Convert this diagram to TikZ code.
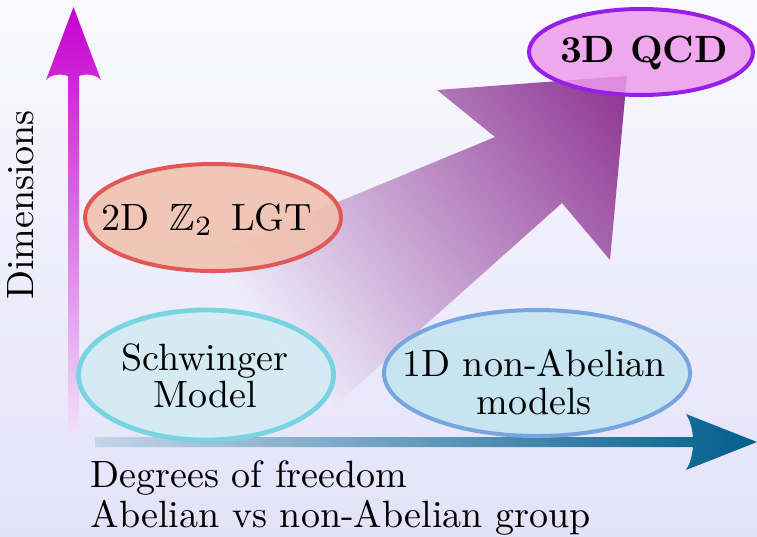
\documentclass[tikz,border=0pt]{standalone}
\usepackage{amssymb}
\usetikzlibrary{shapes.geometric}
\definecolor{bgtop}{RGB}{249,249,254}
\definecolor{bgbot}{RGB}{228,226,248}
\definecolor{vtop}{RGB}{198,0,208}
\definecolor{vmid}{RGB}{216,80,226}
\definecolor{vbot}{RGB}{240,226,250}
\definecolor{hleft}{RGB}{196,212,233}
\definecolor{hright}{RGB}{0,94,140}
\definecolor{bigdark}{RGB}{140,50,145}
\definecolor{biglight}{RGB}{238,236,251}
\definecolor{lgtfill}{RGB}{240,192,172}
\definecolor{lgtdraw}{RGB}{224,88,88}
\definecolor{qcdfill}{RGB}{238,154,236}
\definecolor{qcddraw}{RGB}{150,30,230}
\definecolor{schfill}{RGB}{210,236,244}
\definecolor{schdraw}{RGB}{120,212,224}
\definecolor{nabfill}{RGB}{194,228,240}
\definecolor{nabdraw}{RGB}{120,164,224}
\tikzset{
  lbl/.style={font=\fontsize{9.5}{9.3}\selectfont, inner sep=0pt, align=center},
  oval/.style={ellipse, inner sep=0pt, line width=1pt, fill opacity=0.85},
}
\begin{document}
\begin{tikzpicture}[x=0.25pt, y=-0.25pt]
\shade[top color=bgtop, bottom color=bgbot] (0,0) rectangle (757,536);
\useasboundingbox (0,0) rectangle (757,536);
% vertical axis
\shade[top color=vtop, middle color=vmid, bottom color=vbot]
  (68,434) -- (68,76) .. controls (60,73) and (50,75) .. (46,80) -- (73.5,7)
  -- (101,80) .. controls (97,75) and (87,73) .. (79,76) -- (79,434) -- cycle;
% horizontal axis
\shade[left color=hleft, right color=hright]
  (95,437) -- (693,437) .. controls (692,428) and (690,420) .. (686,414) -- (757,442)
  -- (686,470) .. controls (690,464) and (692,456) .. (693,447) -- (95,447) -- cycle;
% big arrow
\begin{scope}
  \clip (627,76) -- (437,90) -- (495,137) -- (210,255) -- (330,410) -- (562,203) -- (610,260) -- cycle;
  \begin{scope}[transform canvas={shift={(456,216)}, rotate=36}]
    \shade[left color=biglight, right color=bigdark] (-222,-300) rectangle (222,300);
  \end{scope}
\end{scope}
% ovals
\node[oval, draw=lgtdraw, fill=lgtfill, minimum width=64pt, minimum height=26.75pt] (lgt) at (213,217.5) {};
\node[oval, draw=qcddraw, fill=qcdfill, minimum width=56pt, minimum height=21.5pt] (qcd) at (641,52) {};
\node[oval, draw=schdraw, fill=schfill, line width=1.2pt, minimum width=63.75pt, minimum height=32.5pt] (sch) at (206,375) {};
\node[oval, draw=nabdraw, fill=nabfill, minimum width=76.5pt, minimum height=31.5pt] (nab) at (537,373) {};
% texts
\node[lbl, anchor=base] (lgttext) at (207,230) {2D\hspace{1.8pt} $\mathbb{Z}_2$\hspace{1.3pt} LGT};
\node[lbl, anchor=base] (qcdtext) at (644,62) {\bfseries 3D QCD};
\node[lbl] (schtext) at (205,376) {Schwinger\\Model};
\node[lbl] (nabtext) at (534,382) {1D non-Abelian\\models};
\node[lbl, rotate=90, anchor=base] (dim) at (34,205) {Dimensions};
\node[lbl, anchor=base west] (dof) at (90,487) {Degrees of freedom};
\node[lbl, anchor=base west] (grp) at (90,527) {Abelian vs non-Abelian group};
\end{tikzpicture}
\end{document}
